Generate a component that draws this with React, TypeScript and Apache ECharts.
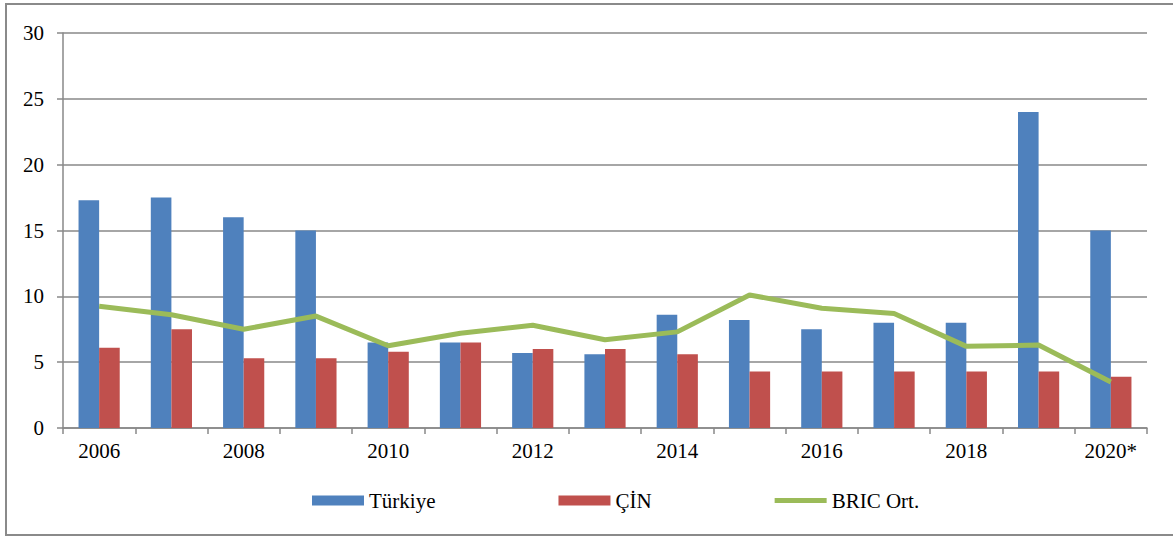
import React, { useEffect, useRef } from "react";
import * as echarts from "echarts";

const categories = ["2006", "2007", "2008", "2009", "2010", "2011", "2012", "2013", "2014", "2015", "2016", "2017", "2018", "2019", "2020*"];
const turkiye = [17.3, 17.5, 16.0, 15.0, 6.5, 6.5, 5.7, 5.6, 8.6, 8.2, 7.5, 8.0, 8.0, 24.0, 15.0];
const cin = [6.1, 7.5, 5.3, 5.3, 5.8, 6.5, 6.0, 6.0, 5.6, 4.3, 4.3, 4.3, 4.3, 4.3, 3.9];
const bric = [9.25, 8.6, 7.5, 8.5, 6.25, 7.2, 7.8, 6.7, 7.3, 10.1, 9.1, 8.7, 6.2, 6.3, 3.5];

const FONT = "Liberation Serif";

export default function App() {
  const ref = useRef<HTMLDivElement>(null);
  useEffect(() => {
    document.body.style.margin = "0";
    const chart = echarts.init(ref.current!, null, { renderer: "svg" });
    chart.setOption({
      animation: false,
      backgroundColor: "#ffffff",
      textStyle: { fontFamily: FONT, color: "#000" },
      graphic: [
        {
          type: "rect",
          shape: { x: 6, y: 4, width: 1172, height: 531 },
          style: { fill: "none", stroke: "#8a8a8a", lineWidth: 2 },
          silent: true,
        },
      ],
      grid: { left: 63, right: 26, top: 33, bottom: 110 },
      legend: {
        left: 312,
        top: 490,
        padding: 0,
        itemWidth: 52,
        itemHeight: 10,
        itemGap: 123,
        textStyle: { fontFamily: FONT, fontSize: 21, color: "#000" },
        data: [
          { name: "Türkiye", icon: "rect" },
          { name: "ÇİN", icon: "rect" },
          {
            name: "BRIC Ort.",
            icon: "path://M0,0 L52,0 Z M0,10 L52,10 Z M0,2.5 L52,2.5 L52,7.5 L0,7.5 Z",
            itemStyle: { color: "#9BBB59" },
          },
        ],
      },
      xAxis: {
        type: "category",
        data: categories,
        boundaryGap: true,
        axisLine: { show: true, lineStyle: { color: "#888", width: 1.5 } },
        axisTick: { show: true, interval: 0, length: 6, lineStyle: { color: "#888", width: 1.5 } },
        axisLabel: { interval: 1, fontSize: 21, fontFamily: FONT, color: "#000", margin: 12 },
        splitLine: { show: false },
      },
      yAxis: {
        type: "value",
        min: 0,
        max: 30,
        interval: 5,
        axisLine: { show: true, lineStyle: { color: "#888", width: 1.5 } },
        axisTick: { show: true, length: 6, lineStyle: { color: "#888", width: 1.5 } },
        axisLabel: { fontSize: 21, fontFamily: FONT, color: "#000", margin: 19 },
        splitLine: { show: true, lineStyle: { color: "#888", width: 1.5 } },
      },
      series: [
        {
          name: "Türkiye",
          type: "bar",
          data: turkiye,
          barGap: "0%",
          barCategoryGap: "43%",
          itemStyle: { color: "#4F81BD" },
        },
        {
          name: "ÇİN",
          type: "bar",
          data: cin,
          itemStyle: { color: "#C0504D" },
        },
        {
          name: "BRIC Ort.",
          type: "line",
          data: bric,
          symbol: "none",
          lineStyle: { color: "#9BBB59", width: 5 },
          itemStyle: { color: "#9BBB59" },
          z: 5,
        },
      ],
    });
    return () => chart.dispose();
  }, []);
  return <div ref={ref} style={{ width: 1173, height: 538 }} />;
}
